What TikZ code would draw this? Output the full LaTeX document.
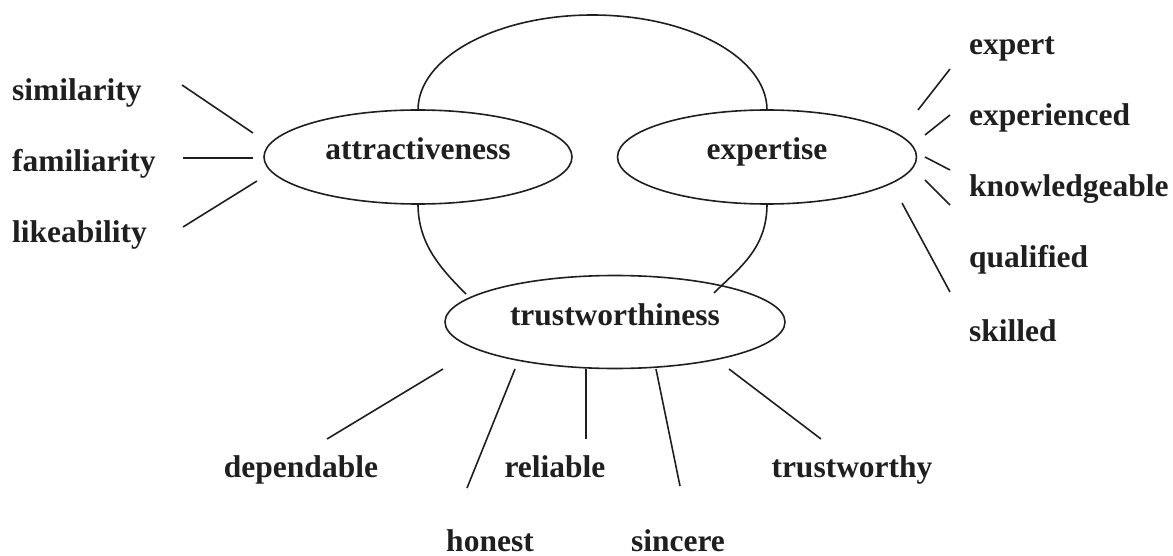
\documentclass[tikz,border=0pt]{standalone}
\usepackage{fontspec}
\setmainfont{Liberation Serif}
\usetikzlibrary{shapes.geometric}
\definecolor{ink}{gray}{0.12}
\begin{document}
\begin{tikzpicture}[x=1pt,y=-1pt,
  lbl/.style={font=\fontsize{31.5}{36}\selectfont\bfseries, inner sep=0pt, text=ink},
  oval/.style={ellipse, draw=ink, line width=1.6pt, inner sep=0pt, outer sep=0pt,
    text height=14pt, text depth=8pt, text=ink, font=\fontsize{31.5}{36}\selectfont\bfseries},
  link/.style={draw=ink, line width=1.6pt}]
\useasboundingbox (0,0) rectangle (1173,556);

% main concepts
\node[oval, minimum width=308pt, minimum height=94pt] (att) at (418,157) {attractiveness};
\node[oval, minimum width=299pt, minimum height=94pt] (exp) at (767,157) {expertise};
\node[oval, minimum width=340pt, minimum height=93pt] (tru) at (615,322) {trustworthiness};

% links between concepts
\draw[link] (att.north) arc[start angle=180, end angle=0, x radius=174.5pt, y radius=95pt];
\coordinate (t1) at (466,294);
\coordinate (t2) at (714,293);
\draw[link] (att.south) .. controls +(0,40) and +(-25,-25) .. (t1);
\draw[link] (exp.south) .. controls +(0,45) and +(25,-25) .. (t2);

% left labels
\node[lbl, anchor=base west] (sim) at (12,101) {similarity};
\node[lbl, anchor=base west] (fam) at (12,172) {familiarity};
\node[lbl, anchor=base west] (lik) at (12,243) {likeability};
% right labels
\node[lbl, anchor=base west] (xpt) at (969,55) {expert};
\node[lbl, anchor=base west] (xpc) at (969,126) {experienced};
\node[lbl, anchor=base west] (knw) at (969,197) {knowledgeable};
\node[lbl, anchor=base west] (qal) at (969,268) {qualified};
\node[lbl, anchor=base west] (skl) at (969,341) {skilled};
% bottom labels
\node[lbl, anchor=base] (dep) at (301,477) {dependable};
\node[lbl, anchor=base] (rel) at (555,477) {reliable};
\node[lbl, anchor=base] (trw) at (852,477) {trustworthy};
\node[lbl, anchor=base] (hon) at (490,551) {honest};
\node[lbl, anchor=base] (sin) at (678,551) {sincere};

% spoke end points
\coordinate (a1) at (253,133); \coordinate (b1) at (182,85);
\coordinate (a2) at (253,158); \coordinate (b2) at (183,158);
\coordinate (a3) at (257,181); \coordinate (b3) at (183,227);
\coordinate (c1) at (918,110); \coordinate (d1) at (950,69);
\coordinate (c2) at (925,135); \coordinate (d2) at (950,115);
\coordinate (c3) at (925,157); \coordinate (d3) at (950,170);
\coordinate (c4) at (925,180); \coordinate (d4) at (950,205);
\coordinate (c5) at (902,203); \coordinate (d5) at (950,292);
\coordinate (e1) at (443,369); \coordinate (f1) at (327,439);
\coordinate (e2) at (515,369); \coordinate (f2) at (467,488);
\coordinate (e3) at (586,369); \coordinate (f3) at (586,439);
\coordinate (e4) at (656,369); \coordinate (f4) at (680,486);
\coordinate (e5) at (729,369); \coordinate (f5) at (821,439);

\foreach \s/\t in {a1/b1,a2/b2,a3/b3,c1/d1,c2/d2,c3/d3,c4/d4,c5/d5,e1/f1,e2/f2,e3/f3,e4/f4,e5/f5}
  \draw[link] (\s) -- (\t);
\end{tikzpicture}
\end{document}
